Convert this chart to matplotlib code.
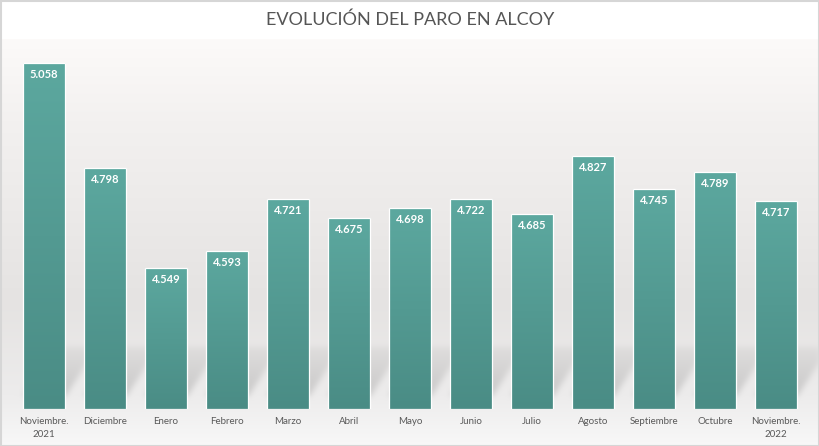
import numpy as np
import matplotlib
matplotlib.use("Agg")
import matplotlib.pyplot as plt
from matplotlib.patches import Rectangle

# ---- data ----
categories = ["Noviembre.\n2021", "Diciembre", "Enero", "Febrero", "Marzo", "Abril",
              "Mayo", "Junio", "Julio", "Agosto", "Septiembre", "Octubre", "Noviembre.\n2022"]
parados = [5058, 4798, 4549, 4593, 4721, 4675, 4698, 4722, 4685, 4827, 4745, 4789, 4717]
title = "EVOLUCIÓN DEL PARO EN ALCOY"

FONT = ["Lato", "DejaVu Sans"]
W, H = 820, 446
fig = plt.figure(figsize=(W / 100, H / 100), dpi=100)
fig.patch.set_facecolor("white")

# background axes
bgax = fig.add_axes([0, 0, 1, 1], zorder=-10)
bgax.set_axis_off()

ax = fig.add_axes([13.5 / W, (H - 409) / H, 793 / W, 362.5 / H])
ax.set_facecolor("none")
x = np.arange(len(categories))
bars = ax.bar(x, parados, width=0.7, color="#53998f", edgecolor="none", linewidth=0, zorder=2)
ax.set_xlim(-0.5, len(categories) - 0.5)
ax.set_ylim(4200, 5100)
for s in ax.spines.values():
    s.set_visible(False)
ax.set_yticks([])
ax.set_xticks(x)
ax.set_xticklabels(categories, fontsize=7, color="#595959", family=FONT, linespacing=1.55)
ax.tick_params(axis="x", length=0, pad=6)

# gradient fill inside bars
grad = np.linspace(0, 1, 256).reshape(-1, 1)
top = np.array([0x5C, 0xA8, 0x9F]) / 255
bot = np.array([0x4A, 0x8C, 0x85]) / 255
gimg = (bot[None, None, :] * (1 - grad[:, :, None]) + top[None, None, :] * grad[:, :, None])
for b in bars:
    x0, y0 = b.get_x(), 4200
    x1, y1 = b.get_x() + b.get_width(), b.get_height()
    im = ax.imshow(gimg, extent=[x0, x1, y0, y1], origin="lower", aspect="auto", zorder=2.1)
    im.set_clip_path(b)
ax.set_xlim(-0.5, len(categories) - 0.5)
ax.set_ylim(4200, 5100)
for b in bars:
    r = Rectangle((b.get_x(), 4200), b.get_width(), b.get_height() - 4200,
                  fill=False, edgecolor="white", linewidth=0.9, zorder=2.2)
    r.set_joinstyle("miter")
    ax.add_patch(r)

# value labels
for xi, v in zip(x, parados):
    ax.annotate(f"{v:,}".replace(",", "."), (xi, v), xytext=(0, -8.2), textcoords="offset points",
                ha="center", va="center", color="white", fontsize=8, fontweight="bold",
                family=FONT, zorder=3)

# ---- background image with gradient and shadows ----
rows = np.arange(H)
stops_r = [0, 38, 39, 120, 300, 395, 446]
cols = np.array([[255, 255, 255], [255, 255, 255], [252, 250, 249], [243, 241, 240],
                 [229, 227, 226], [237, 236, 236], [248, 248, 248]]) / 255
bg = np.stack([np.interp(rows, stops_r, cols[:, c]) for c in range(3)], axis=1)
bg = np.repeat(bg[:, None, :], W, axis=1)

yy, xx = np.mgrid[0:H, 0:W]
M = np.zeros((H, W))
h0, h1, sh = 14, 62, 0.65
for b in bars:
    p = ax.transData.transform([(b.get_x(), 4200), (b.get_x() + b.get_width(), 4200)])
    xl, xr = p[0, 0], p[1, 0]
    rb = H - p[0, 1]
    hgt = rb - yy
    inside = (hgt >= h0) & (hgt <= h1)
    xs = xx - sh * (hgt - h0)
    inside &= (xs >= xl) & (xs <= xr)
    val = 1 - 0.7 * (hgt - h0) / (h1 - h0)
    M = np.maximum(M, np.where(inside, val, 0))

def blur(a, s):
    r = int(3 * s)
    k = np.exp(-np.arange(-r, r + 1) ** 2 / (2 * s * s))
    k /= k.sum()
    a = np.apply_along_axis(lambda m: np.convolve(m, k, mode="same"), 0, a)
    a = np.apply_along_axis(lambda m: np.convolve(m, k, mode="same"), 1, a)
    return a

M = blur(M, 3.0)
bg = bg * (1 - 0.15 * M[:, :, None])
bgax.imshow(bg, extent=[0, W, 0, H], origin="upper", aspect="auto")
bgax.set_xlim(0, W)
bgax.set_ylim(0, H)

# border
fig.add_artist(Rectangle((0.001, 0.001), 0.998, 0.997, transform=fig.transFigure, fill=False,
                         edgecolor="#d6d6d6", linewidth=1.5))

fig.text(0.5, 1 - 20 / H, title, ha="center", va="center", fontsize=13, color="#555555", family=FONT)

fig.savefig("out.png", dpi=100)
